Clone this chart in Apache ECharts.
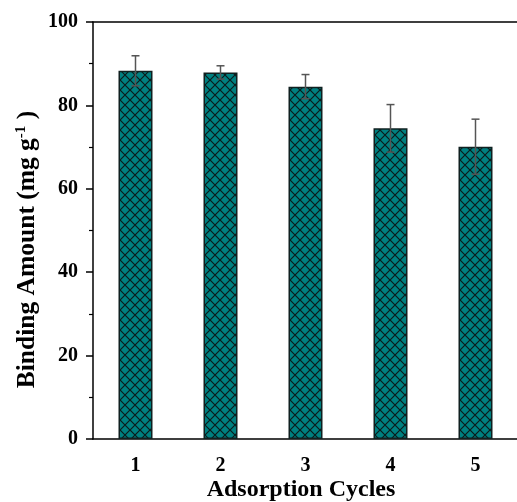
<!DOCTYPE html>
<html>
<head>
<meta charset="utf-8">
<script src="https://cdn.jsdelivr.net/npm/echarts@6/dist/echarts.min.js"></script>
<style>html,body{margin:0;padding:0;background:#fff;}#chart{width:517px;height:502px;}</style>
</head>
<body>
<div id="chart"></div>
<script>
const categories = ['1', '2', '3', '4', '5'];
const bindingAmount = [88.3, 87.9, 84.5, 74.5, 70.1];
const errorValues = [3.6, 1.6, 2.9, 5.7, 6.6];
const yTicks = [0, 20, 40, 60, 80, 100];

// crosshatch pattern
const pc = document.createElement('canvas');
pc.width = 10; pc.height = 10;
const g = pc.getContext('2d');
g.fillStyle = '#008080';
g.fillRect(0, 0, 10, 10);
g.strokeStyle = '#0a1a1a';
g.lineWidth = 1.2;
g.beginPath();
g.moveTo(-1, -1); g.lineTo(11, 11);
g.moveTo(11, -1); g.lineTo(-1, 11);
g.stroke();

const font = 'Liberation Serif';
const chart = echarts.init(document.getElementById('chart'));
const errData = categories.map((c, i) => [i, bindingAmount[i] - errorValues[i], bindingAmount[i] + errorValues[i]]);

chart.setOption({
  animation: false,
  grid: { left: 93, right: -1, top: 22, bottom: 63, containLabel: false, outerBoundsMode: 'none' },
  xAxis: [
    {
      type: 'category', data: categories, position: 'bottom',
      axisLine: { lineStyle: { color: '#000', width: 1.5 } },
      axisTick: { alignWithLabel: true, length: 6, lineStyle: { color: '#000', width: 1.5 } },
      axisLabel: { color: '#000', fontFamily: font, fontWeight: 'bold', fontSize: 20, margin: 17 },
      name: 'Adsorption Cycles', nameLocation: 'middle', nameGap: 39, nameMoveOverlap: false,
      nameTextStyle: { color: '#000', fontFamily: font, fontWeight: 'bold', fontSize: 24, padding: [0, 9, 0, 0] }
    },
    {
      type: 'category', data: categories, position: 'bottom',
      axisLine: { show: false },
      axisTick: { alignWithLabel: false, length: 3, lineStyle: { color: '#000', width: 1.2 } },
      axisLabel: { show: false }
    },
    {
      type: 'category', data: categories, position: 'top',
      axisLine: { lineStyle: { color: '#000', width: 1.5 } },
      axisTick: { inside: true, alignWithLabel: true, length: 3, lineStyle: { color: '#000', width: 1.2 } },
      axisLabel: { show: false }
    },
    {
      type: 'category', data: categories, position: 'top',
      axisLine: { show: false },
      axisTick: { inside: true, alignWithLabel: false, length: 3, lineStyle: { color: '#000', width: 1.2 } },
      axisLabel: { show: false }
    }
  ],
  yAxis: {
    type: 'value', min: yTicks[0], max: yTicks[yTicks.length - 1], interval: 20,
    axisLine: { show: true, lineStyle: { color: '#000', width: 1.5 } },
    axisTick: { show: true, length: 7, lineStyle: { color: '#000', width: 1.5 } },
    minorTick: { show: true, splitNumber: 2, length: 4, lineStyle: { color: '#000', width: 1.2 } },
    splitLine: { show: false },
    axisLabel: { color: '#000', fontFamily: font, fontWeight: 'bold', fontSize: 20, margin: 15 },
    name: '{a|Binding Amount (mg g}{s|-1}{a| )}', nameLocation: 'middle', nameGap: 53, nameMoveOverlap: false,
    nameTextStyle: {
      padding: [0, 38, 0, 0],
      rich: {
        a: { color: '#000', fontFamily: font, fontWeight: 'bold', fontSize: 25.5 },
        s: { color: '#000', fontFamily: font, fontWeight: 'bold', fontSize: 15, verticalAlign: 'top', padding: [0, 0, 10, 0] }
      }
    }
  },
  series: [
    {
      type: 'bar', xAxisIndex: 0, data: bindingAmount, barWidth: 34,
      itemStyle: { color: { image: pc, repeat: 'repeat' }, borderColor: '#102020', borderWidth: 1.5 },
      z: 2
    },
    {
      type: 'custom', xAxisIndex: 0, data: errData, z: 5,
      renderItem: function (params, api) {
        const x = api.value(0);
        const lo = api.coord([x, api.value(1)]);
        const hi = api.coord([x, api.value(2)]);
        const w = 4;
        const st = { stroke: '#555', lineWidth: 1.5 };
        return {
          type: 'group',
          children: [
            { type: 'line', shape: { x1: hi[0], y1: hi[1], x2: lo[0], y2: lo[1] }, style: st },
            { type: 'line', shape: { x1: hi[0] - w, y1: hi[1], x2: hi[0] + w, y2: hi[1] }, style: st },
            { type: 'line', shape: { x1: lo[0] - w, y1: lo[1], x2: lo[0] + w, y2: lo[1] }, style: st }
          ]
        };
      }
    }
  ]
});
</script>
</body>
</html>
